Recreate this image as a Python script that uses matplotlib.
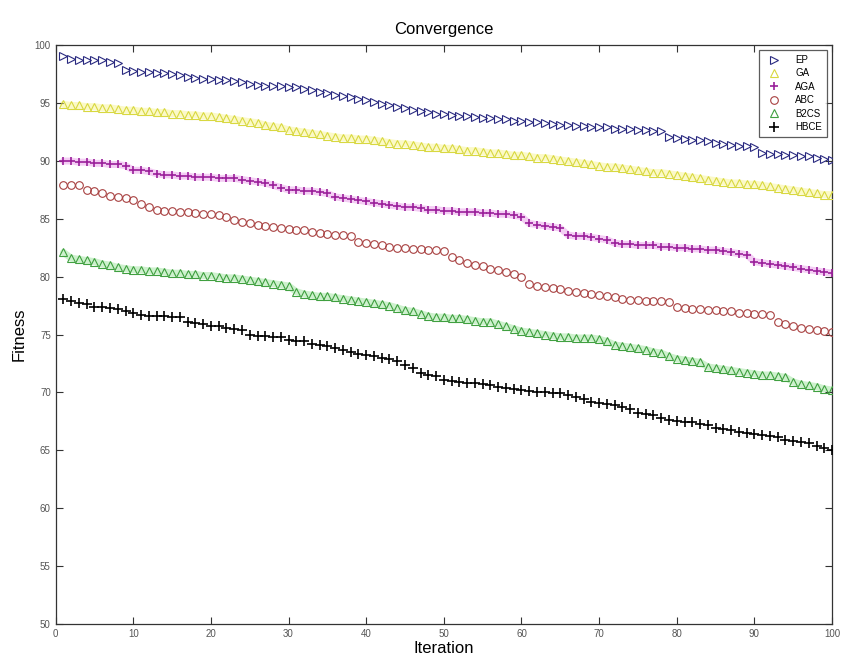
import numpy as np
import matplotlib.pyplot as plt

plt.rcParams['font.family'] = ['Liberation Sans', 'DejaVu Sans']

iterations = np.arange(1, 101)

ep = [99.1, 98.8, 98.7, 98.7, 98.7, 98.7, 98.6, 98.5, 97.9, 97.8,
      97.7, 97.7, 97.6, 97.6, 97.5, 97.4, 97.3, 97.2, 97.1, 97.1,
      97.0, 97.0, 96.9, 96.8, 96.7, 96.6, 96.5, 96.5, 96.5, 96.4,
      96.4, 96.2, 96.1, 96.0, 95.9, 95.7, 95.6, 95.5, 95.4, 95.3,
      95.1, 94.9, 94.8, 94.7, 94.6, 94.4, 94.3, 94.2, 94.1, 94.1,
      94.0, 93.9, 93.9, 93.8, 93.7, 93.7, 93.6, 93.6, 93.5, 93.5,
      93.4, 93.4, 93.3, 93.2, 93.1, 93.1, 93.0, 93.0, 92.9, 92.9,
      92.9, 92.8, 92.8, 92.8, 92.7, 92.7, 92.6, 92.6, 92.1, 92.0,
      91.9, 91.8, 91.8, 91.7, 91.6, 91.5, 91.4, 91.3, 91.3, 91.2,
      90.7, 90.6, 90.6, 90.5, 90.5, 90.4, 90.4, 90.3, 90.2, 90.1]

ga = [94.9, 94.8, 94.8, 94.7, 94.7, 94.6, 94.6, 94.5, 94.4, 94.4,
      94.3, 94.3, 94.2, 94.2, 94.1, 94.1, 94.0, 94.0, 93.9, 93.9,
      93.8, 93.7, 93.6, 93.5, 93.4, 93.3, 93.1, 93.0, 92.9, 92.7,
      92.6, 92.5, 92.4, 92.3, 92.2, 92.1, 92.0, 92.0, 91.9, 91.9,
      91.8, 91.7, 91.6, 91.5, 91.5, 91.4, 91.3, 91.2, 91.2, 91.1,
      91.1, 91.0, 90.9, 90.9, 90.8, 90.7, 90.7, 90.6, 90.5, 90.5,
      90.4, 90.3, 90.3, 90.2, 90.1, 90.0, 89.9, 89.8, 89.7, 89.6,
      89.5, 89.5, 89.4, 89.3, 89.2, 89.1, 89.0, 89.0, 88.9, 88.8,
      88.7, 88.6, 88.5, 88.4, 88.3, 88.2, 88.1, 88.1, 88.0, 88.0,
      87.9, 87.8, 87.7, 87.6, 87.5, 87.4, 87.3, 87.2, 87.1, 87.1]

aga = [90.0, 90.0, 89.9, 89.9, 89.8, 89.8, 89.7, 89.7, 89.6, 89.2,
       89.2, 89.1, 88.9, 88.8, 88.8, 88.7, 88.7, 88.6, 88.6, 88.6,
       88.5, 88.5, 88.5, 88.4, 88.3, 88.2, 88.1, 87.9, 87.7, 87.5,
       87.5, 87.4, 87.4, 87.3, 87.2, 86.9, 86.8, 86.7, 86.6, 86.5,
       86.4, 86.3, 86.2, 86.1, 86.0, 86.0, 85.9, 85.8, 85.8, 85.7,
       85.7, 85.6, 85.6, 85.6, 85.5, 85.5, 85.4, 85.4, 85.3, 85.2,
       84.6, 84.5, 84.4, 84.3, 84.2, 83.6, 83.5, 83.5, 83.4, 83.3,
       83.2, 82.9, 82.8, 82.8, 82.7, 82.7, 82.7, 82.6, 82.6, 82.5,
       82.5, 82.4, 82.4, 82.3, 82.3, 82.2, 82.1, 82.0, 81.9, 81.3,
       81.2, 81.1, 81.0, 80.9, 80.8, 80.7, 80.6, 80.5, 80.4, 80.3]

abc = [87.9, 87.9, 87.9, 87.5, 87.4, 87.2, 87.0, 86.9, 86.8, 86.6,
       86.3, 86.0, 85.8, 85.7, 85.7, 85.6, 85.6, 85.5, 85.4, 85.4,
       85.3, 85.2, 84.9, 84.7, 84.6, 84.5, 84.4, 84.3, 84.2, 84.1,
       84.0, 84.0, 83.9, 83.8, 83.7, 83.6, 83.6, 83.5, 83.0, 82.9,
       82.8, 82.7, 82.6, 82.5, 82.5, 82.4, 82.4, 82.3, 82.3, 82.2,
       81.7, 81.4, 81.2, 81.0, 80.9, 80.7, 80.6, 80.4, 80.2, 80.0,
       79.4, 79.2, 79.1, 79.0, 78.9, 78.8, 78.7, 78.6, 78.5, 78.4,
       78.3, 78.2, 78.1, 78.0, 78.0, 77.9, 77.9, 77.9, 77.8, 77.4,
       77.3, 77.2, 77.2, 77.1, 77.1, 77.0, 77.0, 76.9, 76.9, 76.8,
       76.8, 76.7, 76.1, 75.9, 75.7, 75.6, 75.5, 75.4, 75.3, 75.2]

b2cs = [82.1, 81.6, 81.5, 81.4, 81.3, 81.1, 81.0, 80.8, 80.7, 80.6,
        80.6, 80.5, 80.5, 80.4, 80.3, 80.3, 80.2, 80.2, 80.1, 80.1,
        80.0, 79.9, 79.9, 79.8, 79.7, 79.6, 79.5, 79.4, 79.3, 79.2,
        78.7, 78.5, 78.4, 78.3, 78.3, 78.2, 78.1, 78.0, 77.9, 77.8,
        77.7, 77.6, 77.5, 77.3, 77.1, 77.0, 76.8, 76.6, 76.5, 76.5,
        76.4, 76.4, 76.3, 76.2, 76.1, 76.1, 75.9, 75.7, 75.5, 75.3,
        75.2, 75.1, 75.0, 74.9, 74.8, 74.8, 74.7, 74.7, 74.7, 74.6,
        74.4, 74.1, 74.0, 73.9, 73.8, 73.7, 73.5, 73.4, 73.1, 72.9,
        72.8, 72.7, 72.6, 72.2, 72.1, 72.0, 71.9, 71.8, 71.7, 71.6,
        71.5, 71.5, 71.4, 71.3, 70.9, 70.7, 70.6, 70.5, 70.3, 70.2]

hbce = [78.1, 77.9, 77.7, 77.6, 77.4, 77.4, 77.3, 77.2, 77.0, 76.9,
        76.7, 76.6, 76.6, 76.6, 76.5, 76.5, 76.1, 76.0, 75.9, 75.7,
        75.7, 75.6, 75.5, 75.4, 75.0, 74.9, 74.9, 74.8, 74.8, 74.5,
        74.4, 74.4, 74.2, 74.1, 74.0, 73.8, 73.7, 73.5, 73.3, 73.2,
        73.1, 73.0, 72.9, 72.7, 72.4, 72.1, 71.7, 71.5, 71.4, 71.1,
        71.0, 70.9, 70.8, 70.8, 70.7, 70.6, 70.5, 70.4, 70.3, 70.2,
        70.1, 70.0, 70.0, 69.9, 69.9, 69.8, 69.6, 69.4, 69.2, 69.1,
        69.0, 68.9, 68.7, 68.6, 68.2, 68.1, 68.0, 67.8, 67.6, 67.5,
        67.4, 67.4, 67.3, 67.2, 66.9, 66.8, 66.7, 66.6, 66.5, 66.4,
        66.3, 66.2, 66.1, 65.9, 65.8, 65.7, 65.6, 65.4, 65.2, 65.0]

names = ['EP', 'GA', 'AGA', 'ABC', 'B2CS', 'HBCE']
series = [ep, ga, aga, abc, b2cs, hbce]
markers = ['>', '^', '+', 'o', '^', '+']
colors = ['#2a2a80', '#d8d840', '#9a209a', '#a84040', '#40a040', '#000000']
# soft halo seen around some series in the scanned figure
halos = [None, '#f4f060', '#e070e0', None, '#70d870', None]

fig = plt.figure(figsize=(8.43, 6.67), dpi=100)
ax = fig.add_axes([0.066, 0.065, 0.921, 0.867])

for name, ys, m, c, h in zip(names, series, markers, colors, halos):
    if h is not None:
        ax.plot(iterations, ys, '-', color=h, linewidth=5, alpha=0.35,
                solid_capstyle='round', zorder=1)
    if m == '+':
        size = 6 if name == 'AGA' else 7
        ax.plot(iterations, ys, linestyle='none', marker=m, markersize=size,
                markeredgewidth=1.2, color=c, label=name, zorder=3)
    else:
        ax.plot(iterations, ys, linestyle='none', marker=m, markersize=5.5,
                markerfacecolor='none', markeredgewidth=0.8,
                markeredgecolor=c, label=name, zorder=3)

ax.set_xlim(0, 100)
ax.set_ylim(50, 100)
ax.set_xticks(np.arange(0, 101, 10))
ax.set_yticks(np.arange(50, 101, 5))
ax.tick_params(direction='in', top=True, right=True, length=5,
               labelsize=7, width=0.8, colors='#333333', labelcolor='#555555')
for s in ax.spines.values():
    s.set_linewidth(0.9)
    s.set_color('#333333')

ax.set_title('Convergence', fontsize=12, pad=8)
ax.set_xlabel('Iteration', fontsize=12, labelpad=2)
ax.set_ylabel('Fitness', fontsize=12, labelpad=6)

leg = ax.legend(loc='upper right', fontsize=7, frameon=True, fancybox=False,
                borderaxespad=0.5, handletextpad=1.2, labelspacing=0.35,
                borderpad=0.5)
leg.get_frame().set_edgecolor('#333333')
leg.get_frame().set_linewidth(0.9)

fig.savefig('out.png', dpi=100)
